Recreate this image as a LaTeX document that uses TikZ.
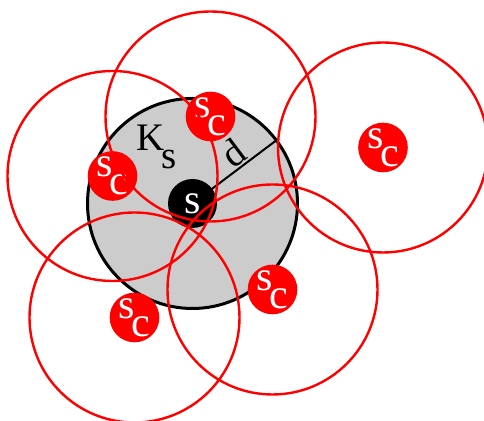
\documentclass[tikz,border=0pt]{standalone}
\usepackage{fontspec}
\setmainfont{Liberation Serif}
\usepackage{tikz}
\newcommand{\lowered}[2]{#1\kern-1.5pt\raisebox{-9pt}{#2}}
\tikzset{
  sensor/.style={circle,fill=black,text=white,inner sep=0pt,minimum size=24.5pt,font=\fontsize{21}{21}\selectfont},
  cover/.style={sensor,fill=red},
  reach/.style={draw=red,line width=1.2pt},
}
\begin{document}
\begin{tikzpicture}[x=0.5pt,y=-0.5pt]
\useasboundingbox (0,0) rectangle (484,421);
\clip (0,0) rectangle (484,421);

% area around s
\coordinate (o) at (192.5,203.5);
\coordinate (dend) at ([shift={(37:52.5pt)}]o);
\draw[fill=black!20,line width=1.5pt] (o) circle[radius=52.5pt];
\draw[line width=1pt] (o)--(dend) node[pos=0.6,sloped,above,font=\fontsize{19.5}{19.5}\selectfont,inner sep=0.5pt] (dlab) {d};
\node[font=\fontsize{19.5}{19.5}\selectfont] (ks) at (157,147) {\lowered{K}{s}};
\node[sensor] (s) at (o) {s};

% covering sensors
\node[cover] (sc1) at (210.5,116.5) {\lowered{s}{c}};
\node[cover] (sc2) at (112.5,176) {\lowered{s}{c}};
\node[cover] (sc3) at (383,147.5) {\lowered{s}{c}};
\node[cover] (sc4) at (134.5,317.5) {\lowered{s}{c}};
\node[cover] (sc5) at (272.5,289.5) {\lowered{s}{c}};

\draw[reach] (sc1) circle[radius=52.5pt];
\draw[reach] (sc2) circle[radius=52.5pt];
\draw[reach] (sc3) circle[radius=52.5pt];
\draw[reach] (sc4) circle[radius=52.5pt];
\draw[reach] (sc5) circle[radius=52.5pt];

\end{tikzpicture}
\end{document}
